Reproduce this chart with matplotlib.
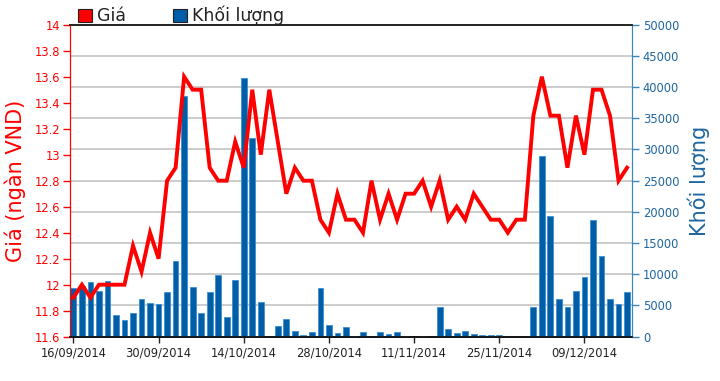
import numpy as np
import pandas as pd
import matplotlib
matplotlib.use("Agg")
import matplotlib.pyplot as plt
from matplotlib.patches import Patch

# trading days 16/09/2014 -> 16/12/2014
dates = pd.bdate_range("2014-09-16", periods=66)

price = [11.9, 12.0, 11.9, 12.0, 12.0, 12.0, 12.0, 12.3, 12.1, 12.4,
         12.2, 12.8, 12.9, 13.6, 13.5, 13.5, 12.9, 12.8, 12.8, 13.1,
         12.9, 13.5, 13.0, 13.5, 13.1, 12.7, 12.9, 12.8, 12.8, 12.5,
         12.4, 12.7, 12.5, 12.5, 12.4, 12.8, 12.5, 12.7, 12.5, 12.7,
         12.7, 12.8, 12.6, 12.8, 12.5, 12.6, 12.5, 12.7, 12.6, 12.5,
         12.5, 12.4, 12.5, 12.5, 13.3, 13.6, 13.3, 13.3, 12.9, 13.3,
         13.0, 13.5, 13.5, 13.3, 12.8, 12.9]

volume = [7750, 8200, 8800, 7400, 9000, 3400, 2600, 3750, 6000, 5350,
          5200, 7150, 12200, 38600, 7900, 3750, 7150, 9900, 3150, 9100,
          41400, 31800, 5550, 0, 1700, 2800, 900, 350, 700, 7750,
          1900, 530, 1520, 100, 700, 0, 700, 400, 700, 180,
          0, 150, 0, 4700, 1200, 550, 900, 400, 200, 200,
          350, 0, 0, 0, 4700, 29000, 19400, 6000, 4700, 7400,
          9500, 18750, 13000, 6000, 5200, 7100]

price_ticks = [11.6, 11.8, 12.0, 12.2, 12.4, 12.6, 12.8, 13.0, 13.2, 13.4, 13.6, 13.8, 14.0]
volume_ticks = [0, 5000, 10000, 15000, 20000, 25000, 30000, 35000, 40000, 45000, 50000]

RED = "#ff0000"
BAR = "#005ea6"
BAR_EDGE = "#3d8fd6"
BLUE_AX = "#3a87b8"
BLUE_TXT = "#1f66a0"
FS = 8.3

fig = plt.figure(figsize=(7.2, 3.81), dpi=100)
ax = fig.add_axes([0.0972, 0.1163, 0.7802, 0.8189])
ax2 = ax.twinx()

# volume axis underneath, price line on top
ax2.set_zorder(1)
ax.set_zorder(2)
ax.patch.set_visible(False)
ax2.patch.set_facecolor("white")

x = np.arange(len(dates))
ax2.bar(x, volume, width=0.68, color=BAR, edgecolor=BAR_EDGE, linewidth=0.6, zorder=3)
ax2.set_ylim(0, 50000)
ax2.set_yticks(volume_ticks)
ax2.set_yticklabels([str(v) for v in volume_ticks])
ax2.yaxis.grid(True, color="#c8c8c8", linewidth=1.3, zorder=0)
ax2.set_axisbelow(True)

ax.plot(x, price, color=RED, linewidth=2.8, solid_joinstyle="miter", zorder=5)
ax.set_ylim(11.6, 14.0)
ax.set_yticks(price_ticks)
ax.set_yticklabels([f"{v:g}" for v in price_ticks])
ax.set_xlim(-0.4, 65.55)
ax.set_xticks(x[::10])
ax.set_xticklabels([d.strftime("%d/%m/%Y") for d in dates[::10]])

for a in (ax, ax2):
    a.spines["left"].set_color(RED)
    a.spines["right"].set_color(BLUE_AX)
    a.spines["top"].set_color("#222222")
    a.spines["bottom"].set_color("#111111")
    a.spines["top"].set_linewidth(1.2)
    a.spines["bottom"].set_linewidth(1.2)

ax.tick_params(axis="y", colors=RED, labelsize=FS, length=5, width=1, pad=2)
ax.tick_params(axis="x", colors="#222222", labelsize=FS, length=4, width=1, pad=3)
ax2.tick_params(axis="y", colors=BLUE_AX, labelcolor=BLUE_TXT, labelsize=FS, length=5, width=1, pad=3)

ax.set_ylabel("Giá (ngàn VND)", color=RED, fontsize=15, labelpad=6)
ax2.set_ylabel("Khối lượng", color=BLUE_TXT, fontsize=15, labelpad=6)

handles = [Patch(facecolor=RED, edgecolor="#222222", linewidth=0.8, label="Giá"),
           Patch(facecolor=BAR, edgecolor="#222222", linewidth=0.8, label="Khối lượng")]
fig.legend(handles=handles, loc="upper left", bbox_to_anchor=(0.108, 0.985), ncol=2,
           frameon=False, fontsize=12.5, handlelength=0.8, handleheight=0.8,
           handletextpad=0.3, columnspacing=2.7, borderpad=0, borderaxespad=0,
           labelcolor="#222222")

fig.savefig("out.png", dpi=100)
